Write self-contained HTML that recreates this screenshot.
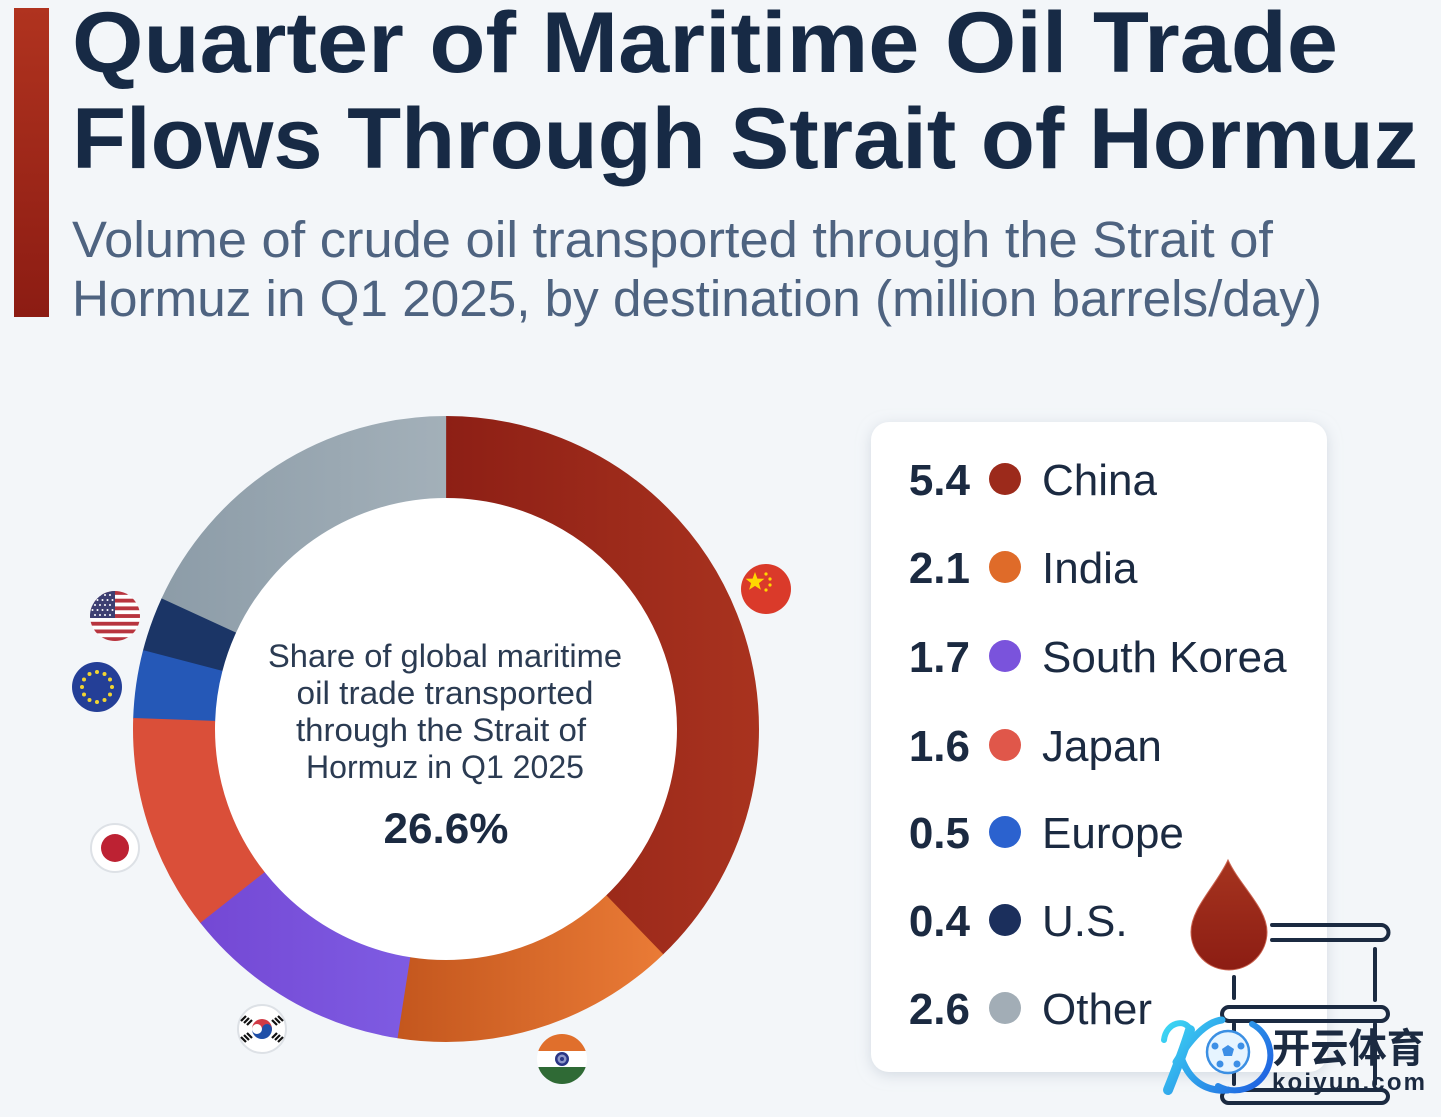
<!DOCTYPE html>
<html>
<head>
<meta charset="utf-8">
<style>
html,body{margin:0;padding:0;background:#f3f6f9;}
svg{display:block;}
text{font-family:"Liberation Sans","Noto Sans CJK SC",sans-serif;}
</style>
</head>
<body>
<svg width="1441" height="1117" viewBox="0 0 1441 1117" xmlns="http://www.w3.org/2000/svg">
<defs>
  <linearGradient id="bar" x1="0" y1="0" x2="0" y2="1">
    <stop offset="0" stop-color="#b0331f"/><stop offset="1" stop-color="#8c1c13"/>
  </linearGradient>
  <linearGradient id="gChina" gradientUnits="userSpaceOnUse" x1="446" y1="0" x2="759" y2="0">
    <stop offset="0" stop-color="#8d1f15"/><stop offset="1" stop-color="#a9331f"/>
  </linearGradient>
  <linearGradient id="gIndia" gradientUnits="userSpaceOnUse" x1="400" y1="0" x2="665" y2="0">
    <stop offset="0" stop-color="#c4571e"/><stop offset="1" stop-color="#ea7b36"/>
  </linearGradient>
  <linearGradient id="gSK" gradientUnits="userSpaceOnUse" x1="200" y1="0" x2="405" y2="0">
    <stop offset="0" stop-color="#7448d4"/><stop offset="1" stop-color="#7e5be2"/>
  </linearGradient>
  <linearGradient id="gOther" gradientUnits="userSpaceOnUse" x1="133" y1="0" x2="446" y2="0">
    <stop offset="0" stop-color="#8a9aa6"/><stop offset="1" stop-color="#a3b0b9"/>
  </linearGradient>
  <linearGradient id="drop" x1="0" y1="0" x2="0" y2="1">
    <stop offset="0" stop-color="#a6341f"/><stop offset="1" stop-color="#8c1d13"/>
  </linearGradient>
  <linearGradient id="kgrad" gradientUnits="userSpaceOnUse" x1="1160" y1="1017" x2="1260" y2="1095">
    <stop offset="0" stop-color="#3fe0f5"/><stop offset="1" stop-color="#1f5fe0"/>
  </linearGradient>
  <filter id="sh" x="-10%" y="-10%" width="120%" height="120%">
    <feDropShadow dx="0" dy="3" stdDeviation="7" flood-color="#b9c3cf" flood-opacity="0.55"/>
  </filter>
  <clipPath id="cUS"><circle cx="115" cy="616" r="25"/></clipPath>
  <clipPath id="cIN"><circle cx="562" cy="1059" r="25"/></clipPath>
</defs>

<rect width="1441" height="1117" fill="#f3f6f9"/>

<!-- header -->
<rect x="14" y="8" width="35" height="309" fill="url(#bar)"/>
<text x="72" y="72" font-size="86" font-weight="700" fill="#172a45" textLength="1266" lengthAdjust="spacingAndGlyphs">Quarter of Maritime Oil Trade</text>
<text x="72" y="168" font-size="86" font-weight="700" fill="#172a45" textLength="1346" lengthAdjust="spacingAndGlyphs">Flows Through Strait of Hormuz</text>
<text x="72" y="257" font-size="51" fill="#4e6380" textLength="1201" lengthAdjust="spacingAndGlyphs">Volume of crude oil transported through the Strait of</text>
<text x="72" y="316" font-size="51" fill="#4e6380" textLength="1250" lengthAdjust="spacingAndGlyphs">Hormuz in Q1 2025, by destination (million barrels/day)</text>

<!-- donut -->
<circle cx="446" cy="729" r="231" fill="#ffffff"/>
<g fill="none" stroke-width="82">
  <circle cx="446" cy="729" r="272" stroke="url(#gOther)" stroke-dasharray="311.2 1397.83" stroke-dashoffset="-971.05"/>
  <circle cx="446" cy="729" r="272" stroke="#1b3566" stroke-dasharray="48.3 1660.73" stroke-dashoffset="-923.24"/>
  <circle cx="446" cy="729" r="272" stroke="#2558b7" stroke-dasharray="60.2 1648.83" stroke-dashoffset="-863.48"/>
  <circle cx="446" cy="729" r="272" stroke="#da4f39" stroke-dasharray="191.7 1517.33" stroke-dashoffset="-672.26"/>
  <circle cx="446" cy="729" r="272" stroke="url(#gSK)" stroke-dasharray="203.6 1505.43" stroke-dashoffset="-469.09"/>
  <circle cx="446" cy="729" r="272" stroke="url(#gIndia)" stroke-dasharray="251.4 1457.63" stroke-dashoffset="-218.11"/>
  <circle cx="446" cy="729" r="272" stroke="url(#gChina)" stroke-dasharray="645.8 1063.23" stroke-dashoffset="-1281.77"/>
</g>

<!-- center text -->
<g fill="#2b3b52" font-size="32" text-anchor="middle">
  <text x="445" y="667" textLength="354" lengthAdjust="spacingAndGlyphs">Share of global maritime</text>
  <text x="445" y="704" textLength="297" lengthAdjust="spacingAndGlyphs">oil trade transported</text>
  <text x="441" y="741" textLength="290" lengthAdjust="spacingAndGlyphs">through the Strait of</text>
  <text x="445" y="778" textLength="278" lengthAdjust="spacingAndGlyphs">Hormuz in Q1 2025</text>
</g>
<text x="446" y="843" font-size="43" font-weight="700" fill="#1b2a41" text-anchor="middle" textLength="125" lengthAdjust="spacingAndGlyphs">26.6%</text>

<!-- flags -->
<circle cx="766" cy="589" r="25" fill="#da3a2a"/>
<polygon points="755,572 757.4,578.6 764.4,578.8 758.9,583.1 760.9,589.8 755,585.9 749.1,589.8 751.1,583.1 745.6,578.8 752.6,578.6" fill="#ffd800"/>
<circle cx="766" cy="574" r="1.6" fill="#ffd800"/>
<circle cx="770" cy="579" r="1.6" fill="#ffd800"/>
<circle cx="770" cy="585" r="1.6" fill="#ffd800"/>
<circle cx="766" cy="590" r="1.6" fill="#ffd800"/>

<g clip-path="url(#cUS)">
  <rect x="88" y="589" width="54" height="54" fill="#ffffff"/>
  <g fill="#b8353f">
    <rect x="88" y="591" width="54" height="3.85"/>
    <rect x="88" y="598.7" width="54" height="3.85"/>
    <rect x="88" y="606.4" width="54" height="3.85"/>
    <rect x="88" y="614.1" width="54" height="3.85"/>
    <rect x="88" y="621.8" width="54" height="3.85"/>
    <rect x="88" y="629.5" width="54" height="3.85"/>
    <rect x="88" y="637.2" width="54" height="3.85"/>
  </g>
  <rect x="88" y="589" width="27" height="29" fill="#3d3f72"/>
  <g fill="#ffffff">
    <circle cx="95" cy="595" r="1"/><circle cx="100" cy="595" r="1"/><circle cx="105" cy="595" r="1"/><circle cx="110" cy="595" r="1"/>
    <circle cx="97.5" cy="600" r="1"/><circle cx="102.5" cy="600" r="1"/><circle cx="107.5" cy="600" r="1"/><circle cx="112.5" cy="600" r="1"/>
    <circle cx="95" cy="605" r="1"/><circle cx="100" cy="605" r="1"/><circle cx="105" cy="605" r="1"/><circle cx="110" cy="605" r="1"/>
    <circle cx="92.5" cy="610" r="1"/><circle cx="97.5" cy="610" r="1"/><circle cx="102.5" cy="610" r="1"/><circle cx="107.5" cy="610" r="1"/><circle cx="112.5" cy="610" r="1"/>
    <circle cx="95" cy="615" r="1"/><circle cx="100" cy="615" r="1"/><circle cx="105" cy="615" r="1"/><circle cx="110" cy="615" r="1"/>
  </g>
</g>

<circle cx="97" cy="687" r="25" fill="#243f97"/>
<g fill="#f2d531">
  <circle cx="97" cy="672" r="2"/><circle cx="104.5" cy="674" r="2"/><circle cx="110" cy="679.5" r="2"/>
  <circle cx="112" cy="687" r="2"/><circle cx="110" cy="694.5" r="2"/><circle cx="104.5" cy="700" r="2"/>
  <circle cx="97" cy="702" r="2"/><circle cx="89.5" cy="700" r="2"/><circle cx="84" cy="694.5" r="2"/>
  <circle cx="82" cy="687" r="2"/><circle cx="84" cy="679.5" r="2"/><circle cx="89.5" cy="674" r="2"/>
</g>

<circle cx="115" cy="848" r="24" fill="#ffffff" stroke="#dde1e6" stroke-width="2"/>
<circle cx="115" cy="848" r="14" fill="#bd2233"/>

<circle cx="262" cy="1029" r="24" fill="#ffffff" stroke="#dde1e6" stroke-width="2"/>
<path d="M252,1029 A10,10 0 0 1 272,1029 A5,5 0 0 1 262,1029 A5,5 0 0 0 252,1029 Z" fill="#d13a45"/>
<path d="M252,1029 A5,5 0 0 0 262,1029 A5,5 0 0 1 272,1029 A10,10 0 0 1 252,1029 Z" fill="#1f4fa8"/>
<g stroke="#111" stroke-width="2.2">
  <path d="M246,1016 l-5,5 M249,1018 l-5,5 M252,1020 l-5,5"/>
  <path d="M278,1016 l5,5 M275,1018 l5,5 M272,1020 l5,5"/>
  <path d="M246,1042 l-5,-5 M249,1040 l-5,-5 M252,1038 l-5,-5"/>
  <path d="M278,1042 l5,-5 M275,1040 l5,-5 M272,1038 l5,-5"/>
</g>

<g clip-path="url(#cIN)">
  <rect x="535" y="1032" width="54" height="19" fill="#e06f2c"/>
  <rect x="535" y="1051" width="54" height="16" fill="#ffffff"/>
  <rect x="535" y="1067" width="54" height="19" fill="#2f6a35"/>
</g>
<circle cx="562" cy="1059" r="7" fill="#2a3585"/>
<circle cx="562" cy="1059" r="4.5" fill="#8e96c8"/>
<circle cx="562" cy="1059" r="2" fill="#2a3585"/>

<!-- legend box -->
<rect x="871" y="422" width="456" height="650" rx="18" fill="#ffffff" filter="url(#sh)"/>
<g font-size="44" fill="#1b2a41">
  <g font-weight="700" text-anchor="end">
    <text x="970" y="495">5.4</text>
    <text x="970" y="583">2.1</text>
    <text x="970" y="672">1.7</text>
    <text x="970" y="761">1.6</text>
    <text x="970" y="848">0.5</text>
    <text x="970" y="936">0.4</text>
    <text x="970" y="1024">2.6</text>
  </g>
  <text x="1042" y="495">China</text>
  <text x="1042" y="583">India</text>
  <text x="1042" y="672">South Korea</text>
  <text x="1042" y="761">Japan</text>
  <text x="1042" y="848">Europe</text>
  <text x="1042" y="936">U.S.</text>
  <text x="1042" y="1024">Other</text>
</g>
<circle cx="1005" cy="479" r="16" fill="#9c2a1b"/>
<circle cx="1005" cy="567" r="16" fill="#df6b29"/>
<circle cx="1005" cy="656" r="16" fill="#7a53dc"/>
<circle cx="1005" cy="745" r="16" fill="#e0574a"/>
<circle cx="1005" cy="832" r="16" fill="#2b62cf"/>
<circle cx="1005" cy="920" r="16" fill="#1b2f5c"/>
<circle cx="1005" cy="1008" r="16" fill="#a2adb6"/>

<!-- barrel icon -->
<g fill="none" stroke="#1b2a41" stroke-width="4" stroke-linecap="round">
  <path d="M1272,925 H1381 A7.5,7.5 0 0 1 1381,940 H1272"/>
  <path d="M1375,949 V1000"/>
  <path d="M1234,977 V998"/>
  <rect x="1222" y="1007" width="166" height="14" rx="7"/>
  <path d="M1234,1024 V1084 M1375,1024 V1084"/>
  <rect x="1222" y="1090" width="166" height="13" rx="6.5"/>
</g>
<path d="M1228,860 C1240,886 1267,908 1267,932 A38,38 0 0 1 1191,932 C1191,908 1216,886 1228,860 Z" fill="url(#drop)" stroke="#c9624f" stroke-width="1"/>

<!-- watermark -->
<g fill="none" stroke="url(#kgrad)" stroke-linecap="round">
  <path d="M1164,1040 C1166,1022 1186,1018 1190,1030" stroke-width="6"/>
  <path d="M1190,1030 C1184,1050 1176,1070 1168,1090" stroke-width="10"/>
  <path d="M1176,1062 C1190,1040 1205,1022 1222,1020" stroke-width="7"/>
  <path d="M1182,1060 C1190,1080 1205,1092 1228,1090" stroke-width="7"/>
  <path d="M1218,1086 A34,34 0 0 0 1252,1024" stroke-width="6"/>
</g>
<circle cx="1228" cy="1052" r="21" fill="#e6f4ff" stroke="#3b8fe3" stroke-width="2.5"/>
<polygon points="1228,1045 1234,1049 1232,1056 1224,1056 1222,1049" fill="#3d8fe6"/>
<circle cx="1215" cy="1046" r="3.5" fill="#3d8fe6"/>
<circle cx="1241" cy="1046" r="3.5" fill="#3d8fe6"/>
<circle cx="1220" cy="1064" r="3.5" fill="#3d8fe6"/>
<circle cx="1237" cy="1064" r="3.5" fill="#3d8fe6"/>
<text x="1272" y="1062" font-family="Noto Sans CJK SC, sans-serif" font-weight="700" font-size="40" fill="#1b2a41" textLength="153" lengthAdjust="spacingAndGlyphs">开云体育</text>
<text x="1272" y="1090" font-size="24" font-weight="700" fill="#1b2a41" textLength="153" lengthAdjust="spacing">koiyun.com</text>
</svg>
</body>
</html>
